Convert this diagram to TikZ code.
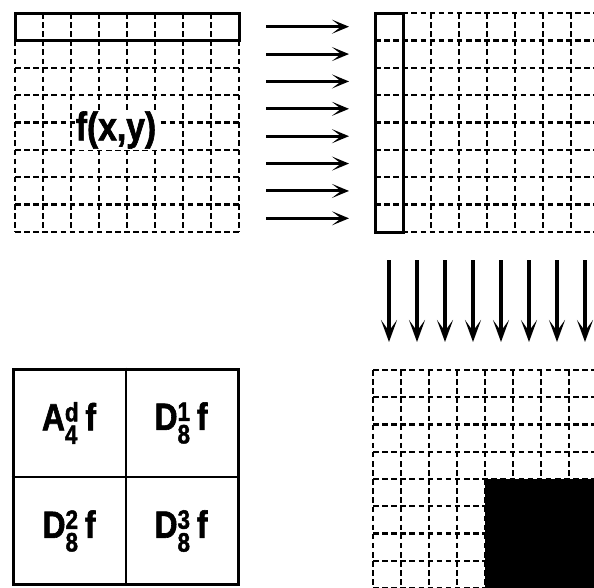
\documentclass[tikz,border=0pt]{standalone}
\usepackage{amsmath}
\usepackage{fontspec}
\setmainfont{Liberation Sans}
\newfontfamily\narrowsans{Liberation Sans}[FakeStretch=0.84, BoldFeatures={FakeBold=1.6}]
\usepackage{tikz}
\usetikzlibrary{arrows.meta, positioning}

\begin{document}
\begin{tikzpicture}[
    x=1pt, y=-1pt,
    >=Stealth,
    every node/.style={font=\rmfamily\bfseries, align=center, text=black},
    sample/.style={draw=black, dash pattern=on 5.5pt off 3.6pt, line width=2.4pt},
    band/.style={draw=black, line width=3pt},
    arrRow/.style={-{Stealth[length=17pt, width=14pt, inset=9pt]}, line width=3pt},
    arrCol/.style={-{Stealth[length=22pt, width=16pt, inset=11pt]}, line width=3.4pt},
    quad/.style={rectangle, draw=black, line width=3pt, inner sep=0pt},
    coef/.style={font=\narrowsans\bfseries\fontsize{38}{40}\selectfont, inner sep=0pt}
  ]
    \useasboundingbox (0,0) rectangle (594,587);
    \clip (0,0) rectangle (594,587);

    % image f(x,y), first row marked
    \foreach \i in {0,...,8}
      \draw[sample] ({15+28*\i},13) -- ({15+28*\i},232);
    \foreach \j in {1,...,8}
      \draw[sample] (15,{13+27.375*\j}) -- (239,{13+27.375*\j});
    \draw[band] (15,13) rectangle (239,40.4);
    \node[fill=white, inner sep=1pt, font=\narrowsans\bfseries\fontsize{40}{42}\selectfont] (fxy) at (116,130) {f(x,y)};

    % row filtering
    \foreach \i in {0,...,7} {
      \coordinate (rowIn\i) at (266,{13+27.375*(\i+0.5)});
      \coordinate (rowOut\i) at (349,{13+27.375*(\i+0.5)});
      \draw[arrRow] (rowIn\i) -- (rowOut\i);
    }

    % after rows, first column marked
    \foreach \i in {0,...,8}
      \draw[sample] ({375+28*\i},13) -- ({375+28*\i},232);
    \foreach \j in {0,...,8}
      \draw[sample] (375,{13+27.375*\j}) -- (600,{13+27.375*\j});
    \draw[band] (375,13) rectangle (403,232);

    % column filtering
    \foreach \i in {0,...,7} {
      \coordinate (colIn\i) at ({389+28*\i},260);
      \coordinate (colOut\i) at ({389+28*\i},342);
      \draw[arrCol] (colIn\i) -- (colOut\i);
    }

    % result grid
    \foreach \i in {0,...,8}
      \draw[sample] ({373+28*\i},370) -- ({373+28*\i},590);
    \foreach \j in {0,...,8}
      \draw[sample] (373,{370+27.25*\j}) -- (600,{370+27.25*\j});
    \fill[black] (485,479) rectangle (600,590);

    % decomposition
    \node[quad, minimum width=225pt, minimum height=215pt] (dec) at (125.5,476.5) {};
    \draw[line width=2pt] (dec.north) -- (dec.south);
    \draw[line width=2pt] (dec.west) -- (dec.east);
    \node[coef] (approx) at (69,423) {A$^{\text{d}}_{\text{4}}$\,f};
    \node[coef] (detA) at (181,423) {D$^{\text{1}}_{\text{8}}$\,f};
    \node[coef] (detB) at (69,531) {D$^{\text{2}}_{\text{8}}$\,f};
    \node[coef] (detC) at (181,531) {D$^{\text{3}}_{\text{8}}$\,f};
  \end{tikzpicture}
\end{document}
